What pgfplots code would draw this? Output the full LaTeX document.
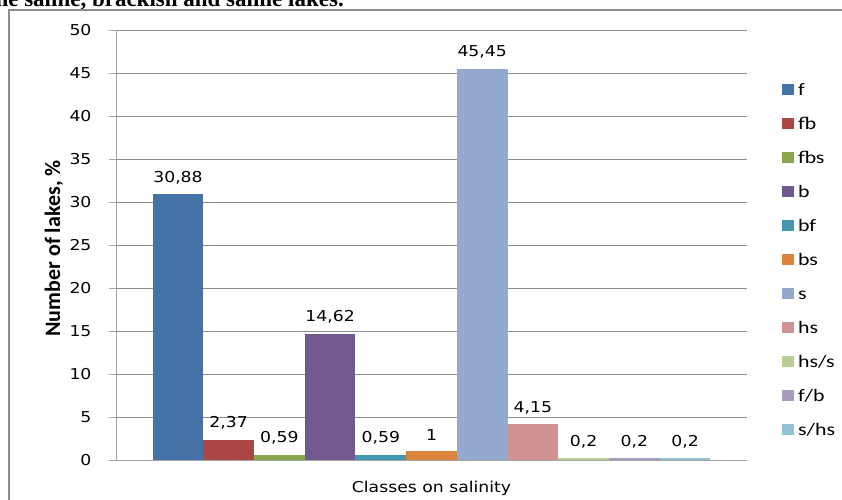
\documentclass[border=0pt]{standalone}
\usepackage{fontspec}
\usepackage{pgfplots}
\pgfplotsset{compat=1.18}
\newfontfamily\tickfont[FakeStretch=1.15]{DejaVu Sans}
\newfontfamily\legfont[FakeStretch=1.25]{Carlito}
\newfontfamily\labfont{Carlito}
\newfontfamily\titfont{Liberation Serif}
\definecolor{c1}{HTML}{4572A7}
\definecolor{c2}{HTML}{AA4643}
\definecolor{c3}{HTML}{89A54E}
\definecolor{c4}{HTML}{71588F}
\definecolor{c5}{HTML}{4198AF}
\definecolor{c6}{HTML}{DB843D}
\definecolor{c7}{HTML}{93A9CF}
\definecolor{c8}{HTML}{D19392}
\definecolor{c9}{HTML}{B9CD96}
\definecolor{c10}{HTML}{A99BBD}
\definecolor{c11}{HTML}{91C3D5}
\definecolor{framegray}{HTML}{8C8C8C}
\definecolor{gridgray}{HTML}{8C8C8C}
\definecolor{axisgray}{HTML}{A6A6A6}
\begin{document}
\begin{tikzpicture}[x=1pt,y=1pt]
\path[use as bounding box] (0,0) rectangle (842,499);
\clip (0,0) rectangle (842,499);
\node[anchor=base east, font=\titfont\bfseries\fontsize{23}{26}\selectfont, inner sep=0pt] at (344,492) {of the saline, brackish and saline lakes.};
\draw[draw=framegray, line width=2pt] (8.5,-20) -- (8.5,488.5) -- (870,488.5);
\begin{axis}[
  at={(116pt,39pt)}, anchor=south west, scale only axis,
  width=631pt, height=430pt,
  xmin=-315.5, xmax=315.5, ymin=0, ymax=50,
  enlargelimits=false,
  ytick={0,5,...,50}, xtick=\empty,
  axis lines=left,
  axis line style={-, draw=axisgray, line width=0.9pt},
  ymajorgrids, grid style={draw=gridgray, line width=0.8pt},
  major tick length=7pt, tick align=outside,
  y tick style={draw=axisgray, line width=0.9pt},
  /pgf/number format/.cd, fixed, precision=2, use comma, assume math mode=true,
  /pgfplots/.cd,
  yticklabel style={font=\tickfont\fontsize{15}{17}\selectfont, text=black, anchor=east, xshift=-14pt},
  ybar=0pt, bar width=50.7pt,
  nodes near coords,
  every node near coord/.append style={font=\tickfont\fontsize{15}{17}\selectfont, text=black, yshift=7pt},
  xlabel={Classes on salinity},
  xlabel style={font=\tickfont\fontsize{15}{17}\selectfont, at={(axis description cs:0.5,-0.0651)}, anchor=center},
  ylabel={Number of lakes, \%},
  ylabel style={font=\labfont\bfseries\fontsize{22}{24}\selectfont, at={(axis description cs:-0.0983,0.4919)}, anchor=center},
  legend style={at={(axis description cs:1.0555,0.8767)}, anchor=north west, draw=none, fill=none,
    inner sep=0pt, outer sep=0pt, column sep=4pt, row sep=18pt,
    font=\legfont\fontsize{17.5}{19}\selectfont,
    nodes={inner sep=0pt, text height=12pt, text depth=4pt, anchor=base west}},
  legend cell align=left,
  legend image code/.code={\fill[#1] (0pt,0pt) rectangle (12pt,11pt);},
]
\addplot[fill=c1, draw=none] coordinates {(0,30.88)};
\addplot[fill=c2, draw=none] coordinates {(0,2.37)};
\addplot[fill=c3, draw=none] coordinates {(0,0.59)};
\addplot[fill=c4, draw=none] coordinates {(0,14.62)};
\addplot[fill=c5, draw=none] coordinates {(0,0.59)};
\addplot[fill=c6, draw=none] coordinates {(0,1)};
\addplot[fill=c7, draw=none] coordinates {(0,45.45)};
\addplot[fill=c8, draw=none] coordinates {(0,4.15)};
\addplot[fill=c9, draw=none] coordinates {(0,0.2)};
\addplot[fill=c10, draw=none] coordinates {(0,0.2)};
\addplot[fill=c11, draw=none] coordinates {(0,0.2)};
\legend{f,fb,fbs,b,bf,bs,s,hs,hs/s,f/b,s/hs}
\end{axis}
\end{tikzpicture}
\end{document}
